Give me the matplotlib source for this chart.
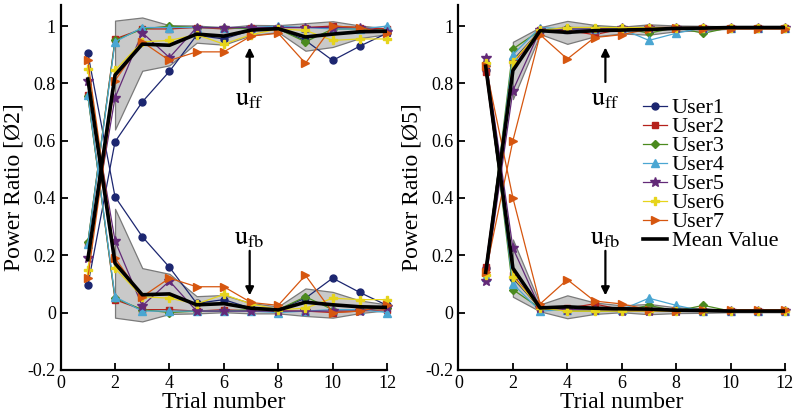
import numpy as np
import matplotlib
matplotlib.use("Agg")
import matplotlib.pyplot as plt

plt.rcParams["font.family"] = ["Liberation Serif", "DejaVu Serif"]
plt.rcParams["mathtext.fontset"] = "stix"

trials = np.arange(1, 13)
users = ["User1", "User2", "User3", "User4", "User5", "User6", "User7"]
colors = ["#1c2670", "#b5211b", "#4b8a1e", "#4aa6d2", "#632a78", "#e6d41c", "#d6560f"]
markers = ["o", "s", "D", "^", "*", "P", ">"]
msizes = [5, 4.5, 4.5, 5.5, 7, 6, 5.5]

# --- left panel (Ø2) ---
ff_L = [
    [0.095, 0.596, 0.735, 0.842, 0.968, 0.955, 0.985, 0.990, 0.950, 0.880, 0.930, 0.975],
    [0.240, 0.955, 0.990, 0.990, 0.995, 0.990, 0.995, 0.995, 0.995, 1.000, 0.995, 0.990],
    [0.245, 0.950, 0.990, 1.000, 0.995, 0.995, 0.990, 0.990, 0.945, 0.990, 0.990, 0.985],
    [0.240, 0.945, 0.995, 0.995, 0.995, 0.995, 0.995, 1.000, 0.995, 0.990, 0.990, 1.000],
    [0.190, 0.750, 0.977, 0.890, 0.995, 0.995, 0.995, 0.995, 0.995, 0.995, 0.995, 0.980],
    [0.150, 0.846, 0.945, 0.950, 0.970, 0.937, 0.970, 0.990, 0.985, 0.950, 0.955, 0.955],
    [0.120, 0.810, 0.945, 0.880, 0.910, 0.910, 0.965, 0.975, 0.870, 1.000, 0.995, 0.975],
]
fb_L = [
    [0.905, 0.404, 0.265, 0.158, 0.032, 0.045, 0.015, 0.010, 0.050, 0.120, 0.070, 0.025],
    [0.760, 0.045, 0.010, 0.010, 0.005, 0.010, 0.005, 0.005, 0.005, 0.000, 0.005, 0.010],
    [0.755, 0.050, 0.010, 0.000, 0.005, 0.005, 0.010, 0.010, 0.055, 0.010, 0.010, 0.015],
    [0.760, 0.055, 0.005, 0.005, 0.005, 0.005, 0.005, 0.000, 0.005, 0.010, 0.010, 0.000],
    [0.810, 0.250, 0.023, 0.110, 0.005, 0.005, 0.005, 0.005, 0.005, 0.005, 0.005, 0.020],
    [0.850, 0.154, 0.055, 0.050, 0.030, 0.063, 0.030, 0.010, 0.015, 0.050, 0.045, 0.045],
    [0.880, 0.190, 0.055, 0.120, 0.090, 0.090, 0.035, 0.025, 0.130, 0.000, 0.005, 0.025],
]
mean_ff_L = [0.185, 0.829, 0.937, 0.933, 0.972, 0.965, 0.986, 0.991, 0.962, 0.972, 0.980, 0.982]
mean_fb_L = [0.815, 0.172, 0.062, 0.065, 0.027, 0.031, 0.015, 0.009, 0.036, 0.027, 0.020, 0.018]
sd_L = [0.190, 0.093, 0.070, 0.030, 0.030, 0.018, 0.012, 0.048, 0.045, 0.022, 0.010]  # trials 2-12

# --- right panel (Ø5) ---
ff_R = [
    [0.155, 0.880, 0.985, 0.990, 0.990, 0.995, 0.995, 0.995, 0.995, 0.995, 0.995, 0.995],
    [0.160, 0.870, 0.985, 0.985, 0.970, 0.990, 0.995, 0.995, 0.995, 0.995, 0.995, 0.995],
    [0.130, 0.920, 0.985, 0.995, 0.995, 0.995, 0.975, 0.995, 0.975, 0.995, 0.995, 0.995],
    [0.125, 0.900, 0.995, 0.990, 0.990, 0.990, 0.950, 0.975, 0.995, 0.995, 0.995, 0.995],
    [0.110, 0.775, 0.985, 0.990, 0.990, 0.995, 0.995, 0.995, 0.995, 0.995, 0.995, 0.995],
    [0.130, 0.875, 0.985, 0.995, 0.995, 0.995, 0.995, 0.995, 0.995, 0.995, 0.995, 0.995],
    [0.140, 0.600, 0.970, 0.885, 0.960, 0.970, 0.990, 0.995, 0.990, 0.990, 0.990, 0.990],
]
fb_R = [
    [0.845, 0.120, 0.015, 0.010, 0.010, 0.005, 0.005, 0.005, 0.005, 0.005, 0.005, 0.005],
    [0.840, 0.130, 0.015, 0.015, 0.030, 0.010, 0.005, 0.005, 0.005, 0.005, 0.005, 0.005],
    [0.870, 0.080, 0.015, 0.005, 0.005, 0.005, 0.025, 0.005, 0.025, 0.005, 0.005, 0.005],
    [0.875, 0.100, 0.005, 0.010, 0.010, 0.010, 0.050, 0.025, 0.005, 0.005, 0.005, 0.005],
    [0.890, 0.225, 0.015, 0.010, 0.010, 0.005, 0.005, 0.005, 0.005, 0.005, 0.005, 0.005],
    [0.870, 0.125, 0.015, 0.005, 0.005, 0.005, 0.005, 0.005, 0.005, 0.005, 0.005, 0.005],
    [0.860, 0.400, 0.030, 0.115, 0.040, 0.030, 0.010, 0.005, 0.010, 0.010, 0.010, 0.010],
]
mean_ff_R = [0.140, 0.845, 0.984, 0.978, 0.984, 0.986, 0.988, 0.992, 0.993, 0.995, 0.995, 0.995]
mean_fb_R = [0.860, 0.155, 0.016, 0.020, 0.015, 0.013, 0.012, 0.008, 0.007, 0.005, 0.005, 0.005]
sd_R = [0.100, 0.012, 0.040, 0.020, 0.012, 0.018, 0.010, 0.008, 0.004, 0.004, 0.004]

fig = plt.figure(figsize=(8.0, 4.18), dpi=100)
axL = fig.add_axes([0.0758, 0.1153, 0.4080, 0.8737])
axR = fig.add_axes([0.5731, 0.1153, 0.4081, 0.8737])


def draw(ax, ff, fb, mff, mfb, sd, ylab, arrow_x):
    sd = np.array(sd)
    t = trials[1:]
    for m in (np.array(mff), np.array(mfb)):
        ax.fill_between(t, m[1:] - sd, m[1:] + sd, facecolor="#c9c9c9",
                        edgecolor="#7a7a7a", lw=0.9, zorder=1)
    for i in range(len(users)):
        for vals, lab in ((ff[i], users[i]), (fb[i], None)):
            ax.plot(trials, vals, color=colors[i], marker=markers[i], ms=msizes[i],
                    lw=0.9, label=lab, clip_on=False, zorder=3)
    ax.plot(trials, mff, color="black", lw=2.6, label="Mean Value", zorder=4)
    ax.plot(trials, mfb, color="black", lw=2.6, zorder=4)

    ax.set_xlim(0, 12)
    ax.set_ylim(-0.2, 1.075)
    ax.set_xticks(range(0, 13, 2))
    ax.set_yticks([-0.2, 0, 0.2, 0.4, 0.6, 0.8, 1])
    ax.set_yticklabels(["-0.2", "0", "0.2", "0.4", "0.6", "0.8", "1"])
    ax.tick_params(direction="in", labelsize=13, width=1.3, length=5)
    for s in ("top", "right"):
        ax.spines[s].set_visible(False)
    for s in ("left", "bottom"):
        ax.spines[s].set_linewidth(1.6)
    ax.set_xlabel("Trial number", fontsize=17, labelpad=0)
    ax.set_ylabel(ylab, fontsize=17, labelpad=2)

    ax.annotate("", xy=(arrow_x, 0.935), xytext=(arrow_x, 0.795),
                arrowprops=dict(arrowstyle="-|>", color="black", lw=1.6,
                                mutation_scale=12), zorder=5)
    ax.text(arrow_x, 0.742, r"$\mathrm{u}_{\mathrm{ff}}$", fontsize=19,
            ha="center", va="center")
    ax.annotate("", xy=(arrow_x, 0.05), xytext=(arrow_x, 0.225),
                arrowprops=dict(arrowstyle="-|>", color="black", lw=1.6,
                                mutation_scale=12), zorder=5)
    ax.text(arrow_x, 0.255, r"$\mathrm{u}_{\mathrm{fb}}$", fontsize=19,
            ha="center", va="center")


draw(axL, ff_L, fb_L, mean_ff_L, mean_fb_L, sd_L, "Power Ratio [Ø2]", 6.95)
draw(axR, ff_R, fb_R, mean_ff_R, mean_fb_R, sd_R, "Power Ratio [Ø5]", 5.4)

axR.legend(loc="upper left", bbox_to_anchor=(0.565, 0.745), frameon=False,
           fontsize=16, handlelength=1.1, handletextpad=0.2,
           labelspacing=-0.07, borderaxespad=0, borderpad=0)

fig.savefig("out.png", dpi=100)
